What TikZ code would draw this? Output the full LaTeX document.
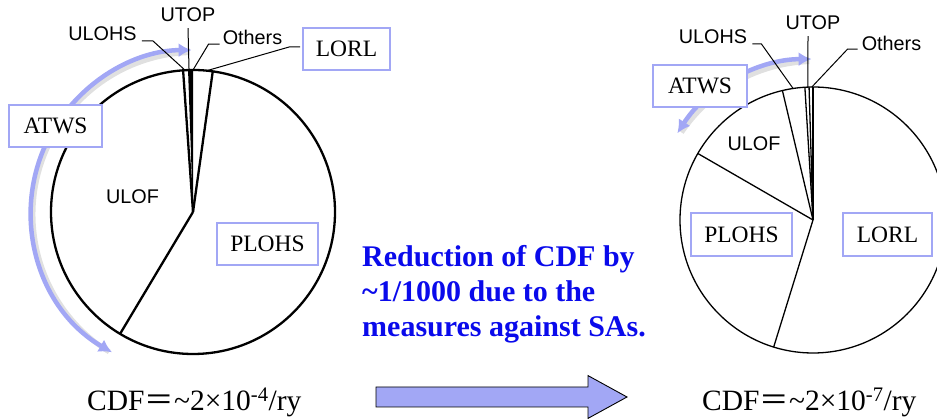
\documentclass[tikz,border=0pt]{standalone}
\usepackage{fontspec}
\setmainfont{Liberation Serif}
\newfontfamily\arialf{Liberation Sans}
\newfontfamily\cjkf{Noto Sans CJK JP}
\usetikzlibrary{arrows.meta,calc}
\definecolor{peri}{RGB}{162,167,245}
\definecolor{reducblue}{RGB}{10,10,235}

\begin{document}
\begin{tikzpicture}[x=1pt,y=1pt,
  pieL/.style={line width=2.3pt},
  pieR/.style={line width=1.3pt},
  lead/.style={line width=1pt},
  tag/.style={draw=peri, line width=2.8pt, fill=white, inner sep=0pt,
    font=\fontsize{23.5}{25}\selectfont},
  lab/.style={font=\arialf\fontsize{19.8}{21}\selectfont, inner sep=0pt},
  sweep/.style={draw=peri, line width=4.5pt,
    {Latex[length=13pt,width=14pt]}-{Latex[length=13pt,width=14pt]}},
  sweepshade/.style={draw=black, opacity=0.12, line width=5pt},
  cdf/.style={font=\fontsize{29.5}{31}\selectfont, inner sep=0pt, anchor=base west},
]
\useasboundingbox (0,0) rectangle (937,419);
\clip (0,0) rectangle (937,419);

% ---------------- left pie (before) ----------------
\coordinate (lc) at (193,207);
\draw[sweepshade] ($(lc)+(2,-2.5)$) ++(238:162) arc (238:92:162);
\draw[sweep] (lc) ++(240:162) arc (240:90.5:162);

\draw[pieL, fill=white] (lc) circle (142);
\fill (lc) -- ++(90:142) arc (90:92:142) -- cycle;
\draw[pieL] (lc) -- ++(94:142);
\draw[pieL] (lc) -- ++(82:142);
\draw[pieL] (lc) -- ++(239.1:142);

\coordinate (lulohsPt)  at ($(lc)+(93.2:142)$);
\coordinate (lutopPt)   at ($(lc)+(91.6:142)$);
\coordinate (lothersPt) at ($(lc)+(90:142)$);
\coordinate (llorlPt)   at ($(lc)+(84.4:142)$);

\node[lab] (lutop) at (188,404) {UTOP};
\node[lab] (lulohs) at (102.5,385) {ULOHS};
\node[lab] (lothers) at (252.5,382) {Others};
\node[lab] (lulof) at (132.5,222) {ULOF};
\node[tag, minimum width=87pt, minimum height=42pt] (llorl) at (346.5,370) {LORL};
\node[tag, minimum width=93pt, minimum height=42pt] (latws) at (55.5,293) {ATWS};
\node[tag, minimum width=101pt, minimum height=42pt] (lplohs) at (267.5,175) {PLOHS};

\draw[lead] (lutop.south) ++(0,-6) -- (lutopPt);
\draw[lead] (lulohs.base east) ++(5,0) -- ++(11,0) -- (lulohsPt);
\draw[lead] (lothers.base west) ++(-3,0) -- ++(-11,0) -- (lothersPt);
\draw[lead] (llorl.west) ++(-1.5,2) -- ++(-11,0) -- (llorlPt);

\node[cdf] (lcdf) at (87,8) {CDF{\cjkf ＝}\textasciitilde 2×10\textsuperscript{-4}/ry};

% ---------------- right pie (after) ----------------
\coordinate (rc) at (813,199);
\draw[sweepshade] ($(rc)+(2,-2.5)$) ++(146:161) arc (146:92:161);
\draw[sweep] (rc) ++(147.4:161) arc (147.4:90.5:161);

\draw[pieR, fill=white] (rc) circle (133);
\draw[line width=2.2pt] (rc) -- ++(90:133);
\draw[pieR] (rc) -- ++(91.7:133);
\draw[pieR] (rc) -- ++(93.5:133);
\draw[pieR] (rc) -- ++(103.3:133);
\draw[pieR] (rc) -- ++(150:133);
\draw[pieR] (rc) -- ++(252.8:133);

\coordinate (rulohsPt)  at ($(rc)+(98.6:133)$);
\coordinate (rutopPt)   at ($(rc)+(92.2:133)$);
\coordinate (rothersPt) at ($(rc)+(90.5:133)$);

\node[lab] (rutop) at (813,396) {UTOP};
\node[lab] (rulohs) at (713,382) {ULOHS};
\node[lab] (rothers) at (891.5,376) {Others};
\node[lab] (rulof) at (754,275) {ULOF};
\node[tag, minimum width=94pt, minimum height=42pt] (ratws) at (700,333) {ATWS};
\node[tag, minimum width=101pt, minimum height=43pt] (rplohs) at (741.5,184.5) {PLOHS};
\node[tag, minimum width=89pt, minimum height=43pt] (rlorl) at (887.5,184.5) {LORL};

\draw[lead] (rutop.south) ++(-5,-6) -- (rutopPt);
\draw[lead] (rulohs.base east) ++(5,0) -- ++(9,0) -- (rulohsPt);
\draw[lead] (rothers.base west) ++(-4,1) -- ++(-10,0) -- (rothersPt);

\node[cdf] (rcdf) at (702,8) {CDF{\cjkf ＝}\textasciitilde 2×10\textsuperscript{-7}/ry};

% ---------------- message and block arrow ----------------
% the base anchor of a multi-line node sits on its last line
\node[anchor=base west, align=left, inner sep=0pt, text=reducblue,
  font=\bfseries\fontsize{30}{35}\selectfont] (reduce) at (362,82)
  {Reduction of CDF by\\\textasciitilde 1/1000 due to the\\measures against SAs.};

\draw[fill=peri, line width=0.9pt]
  (376,12) -- (588,12) -- (588,0.6) -- (627,22) -- (588,43.4) -- (588,32) -- (376,32) -- cycle;
\end{tikzpicture}
\end{document}
